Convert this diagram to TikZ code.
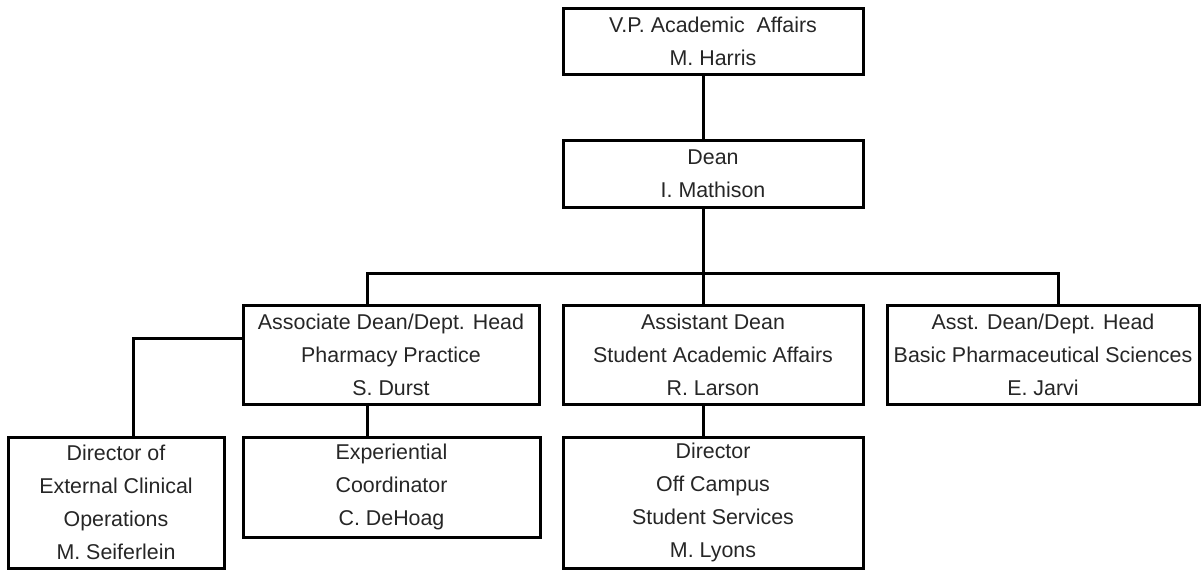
\documentclass[tikz,border=0pt]{standalone}
\usepackage{fontspec}
\setmainfont{Liberation Sans}

\tikzset{office/.style={draw=black, line width=3pt, align=center, inner sep=0pt,
    font=\fontsize{21.4}{33}\selectfont, text=black!85}}

\begin{document}
\begin{tikzpicture}[x=1pt,y=-1pt,line width=3pt]
            \useasboundingbox (0,0) rectangle (1201,570);
            \node (vp) at (713,41) [office, minimum width=300pt, minimum height=66pt] {V.P. Academic\ \ Affairs\\M. Harris};
            \node (dean) at (713,173.5) [office, minimum width=300pt, minimum height=67pt] {Dean\\I. Mathison};
            \node (assoc) at (391,354.5) [office, minimum width=296pt, minimum height=99pt] {Associate Dean/Dept. Head\\Pharmacy Practice\\S. Durst};
            \node (asstdean) at (713,354.5) [office, minimum width=300pt, minimum height=99pt] {Assistant Dean\\Student Academic Affairs\\R. Larson};
            \node (basic) at (1043,354.5) [office, minimum width=312pt, minimum height=99pt] {Asst. Dean/Dept. Head\\Basic Pharmaceutical Sciences\\E. Jarvi};
            \node (extdir) at (116,502.5) [office, minimum width=216pt, minimum height=131pt] {Director of\\External Clinical\\Operations\\M. Seiferlein};
            \node (expcoord) at (391.5,487) [office, minimum width=297pt, minimum height=100pt] {Experiential\\Coordinator\\C. DeHoag};
            \node (offcampus) at (713,502.5) [office, minimum width=300pt, minimum height=131pt] {Director\\Off Campus\\Student Services\\M. Lyons};
            \coordinate (mid) at (703,273);
            \coordinate (lft) at (367,273);
            \coordinate (rgt) at (1058,273);
            \coordinate (side) at (133,338);
            \draw (vp.south -| mid) -- (dean.north -| mid);
            \draw (dean.south -| mid) -- (asstdean.north -| mid);
            \draw (lft |- assoc.north) -- (lft) -- (rgt) -- (rgt |- basic.north);
            \draw (assoc.south -| lft) -- (expcoord.north -| lft);
            \draw (asstdean.south -| mid) -- (offcampus.north -| mid);
            \draw (assoc.west |- side) -- (side) -- (side |- extdir.north);
\end{tikzpicture}
\end{document}
